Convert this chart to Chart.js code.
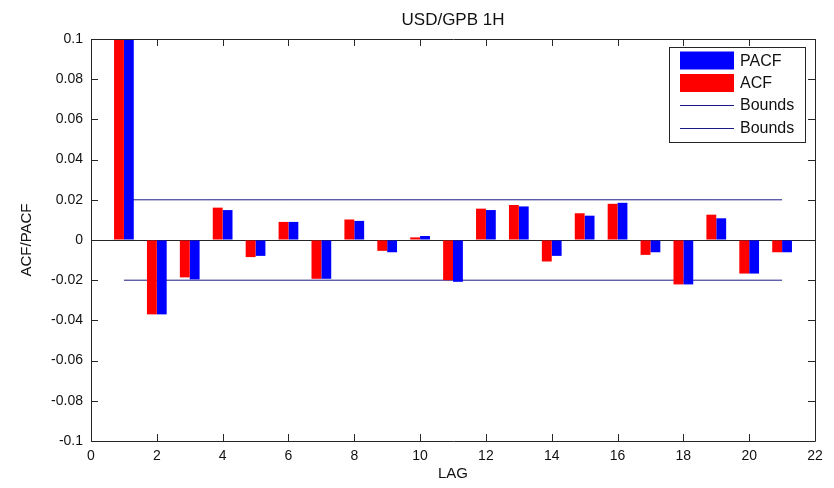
<!DOCTYPE html>
<html>
<head>
<meta charset="utf-8">
<script src="https://cdn.jsdelivr.net/npm/chart.js@4"></script>
<style>
  html, body { margin: 0; padding: 0; background: #fff; }
  #wrap { width: 834px; height: 488px; }
</style>
</head>
<body>
<div id="wrap"><canvas id="c" width="834" height="488"></canvas></div>
<script>
// ---- data ----
const lags = [1,2,3,4,5,6,7,8,9,10,11,12,13,14,15,16,17,18,19,20,21];
const acfValues = [0.1, -0.037, -0.0186, 0.0161, -0.0085, 0.009, -0.0193, 0.0102, -0.0054, 0.0013, -0.0200,
                   0.0156, 0.0174, -0.0107, 0.0133, 0.0180, -0.0074, -0.0221, 0.0126, -0.0167, -0.0061];
const pacfValues = [0.1, -0.037, -0.0196, 0.0149, -0.0079, 0.009, -0.0193, 0.0095, -0.0061, 0.0020, -0.0208,
                    0.0149, 0.0167, -0.0079, 0.0121, 0.0185, -0.0061, -0.0221, 0.0108, -0.0167, -0.0061];
const boundX = [1, 21];
const upperBound = 0.02;
const lowerBound = -0.02;
const xTicks = [0,2,4,6,8,10,12,14,16,18,20,22];
const yTicks = [-0.1,-0.08,-0.06,-0.04,-0.02,0,0.02,0.04,0.06,0.08,0.1];
const titleText = 'USD/GPB 1H';
const xLabel = 'LAG';
const yLabel = 'ACF/PACF';
const legendOrder = ['PACF', 'ACF', 'Bounds', 'Bounds'];

const FONT = 'Arial, "Liberation Sans", sans-serif';
const BLUE = '#0000ff';
const RED = '#ff0000';
const NAVY = '#1a1a86';
const AXIS = '#262626';

const matlabBox = {
  id: 'matlabBox',
  afterDatasetsDraw(chart) {
    const {ctx, chartArea: a, scales} = chart;
    ctx.save();
    ctx.strokeStyle = AXIS;
    ctx.lineWidth = 1;
    ctx.beginPath();
    ctx.rect(Math.round(a.left) + 0.5, Math.round(a.top) + 0.5,
             Math.round(a.right - a.left), Math.round(a.bottom - a.top));
    ctx.stroke();
    const tl = 7;
    ctx.beginPath();
    scales.x.ticks.forEach(t => {
      const px = Math.round(scales.x.getPixelForValue(t.value)) + 0.5;
      ctx.moveTo(px, a.bottom); ctx.lineTo(px, a.bottom - tl);
      ctx.moveTo(px, a.top); ctx.lineTo(px, a.top + tl);
    });
    scales.y.ticks.forEach(t => {
      const py = Math.round(scales.y.getPixelForValue(t.value)) + 0.5;
      ctx.moveTo(a.left, py); ctx.lineTo(a.left + tl, py);
      ctx.moveTo(a.right, py); ctx.lineTo(a.right - tl, py);
    });
    ctx.stroke();

    // legend box
    const bx = a.right - 146, by = a.top + 8, bw = 136, bh = 95;
    ctx.fillStyle = '#fff';
    ctx.fillRect(bx, by, bw, bh);
    ctx.strokeStyle = AXIS;
    ctx.strokeRect(bx + 0.5, by + 0.5, bw, bh);
    const ds = chart.data.datasets;
    ctx.font = '16px ' + FONT;
    ctx.textBaseline = 'middle';
    ctx.textAlign = 'left';
    const rowY = [13.5, 36, 58, 80.5];
    let usedBounds = 0;
    legendOrder.forEach((name, i) => {
      const matches = ds.filter(d => d.label === name);
      const d = name === 'Bounds' ? matches[usedBounds++] : matches[0];
      const cy = by + rowY[i];
      if (d.type === 'line') {
        ctx.strokeStyle = d.borderColor;
        ctx.lineWidth = 1;
        ctx.beginPath();
        ctx.moveTo(bx + 11, Math.round(cy) + 0.5);
        ctx.lineTo(bx + 65, Math.round(cy) + 0.5);
        ctx.stroke();
      } else {
        ctx.fillStyle = d.backgroundColor;
        ctx.fillRect(bx + 11, cy - 9, 54, 18);
      }
      ctx.fillStyle = '#111';
      ctx.fillText(name, bx + 71, cy + 1);
    });
    ctx.restore();
  }
};

const toPts = (xs, ys) => xs.map((x, i) => ({x, y: ys[i]}));

new Chart(document.getElementById('c'), {
  data: {
    datasets: [
      { type: 'bar', label: 'ACF', data: toPts(lags, acfValues), backgroundColor: RED,
        borderWidth: 0, categoryPercentage: 0.6, barPercentage: 1.0, order: 1 },
      { type: 'bar', label: 'PACF', data: toPts(lags, pacfValues), backgroundColor: BLUE,
        borderWidth: 0, categoryPercentage: 0.6, barPercentage: 1.0, order: 1 },
      { type: 'line', label: 'Bounds', data: toPts(boundX, boundX.map(() => upperBound)),
        borderColor: NAVY, borderWidth: 1, pointRadius: 0, fill: false, order: 2 },
      { type: 'line', label: 'Bounds', data: toPts(boundX, boundX.map(() => lowerBound)),
        borderColor: NAVY, borderWidth: 1, pointRadius: 0, fill: false, order: 2 }
    ]
  },
  options: {
    responsive: false,
    animation: false,
    devicePixelRatio: 1,
    layout: { padding: { left: 0, right: 19, top: 0, bottom: 0 } },
    plugins: {
      legend: { display: false },
      tooltip: { enabled: false },
      title: {
        display: true, text: titleText, color: '#111', fullSize: false,
        font: { family: FONT, size: 17, weight: 'normal' },
        padding: { top: 10, bottom: 8.6 }
      }
    },
    scales: {
      x: {
        type: 'linear', min: 0, max: 22, offset: false,
        afterBuildTicks: s => { s.ticks = xTicks.map(v => ({value: v})); },
        afterFit: s => { s.height = 47; },
        ticks: { color: '#111', font: { family: FONT, size: 14 }, padding: 7,
                 maxRotation: 0, autoSkip: false, callback: v => String(v) },
        grid: { display: false, drawTicks: false },
        border: { display: false },
        title: { display: true, text: xLabel, color: '#111',
                 font: { family: FONT, size: 15 }, padding: { top: 0, bottom: 5 } }
      },
      y: {
        type: 'linear', min: -0.1, max: 0.1,
        afterBuildTicks: s => { s.ticks = yTicks.map(v => ({value: v})); },
        afterFit: s => { s.width = 91; },
        ticks: { color: '#111', font: { family: FONT, size: 14 }, padding: 8,
                 autoSkip: false, callback: v => String(Number(v.toFixed(2))) },
        grid: { drawTicks: false, lineWidth: 1,
                color: c => (c.tick && Math.abs(c.tick.value) < 1e-9) ? AXIS : 'rgba(0,0,0,0)' },
        border: { display: false },
        title: { display: true, text: yLabel, color: '#111',
                 font: { family: FONT, size: 15 }, padding: { top: 18, bottom: 0 } }
      }
    }
  },
  plugins: [matlabBox]
});
</script>
</body>
</html>
